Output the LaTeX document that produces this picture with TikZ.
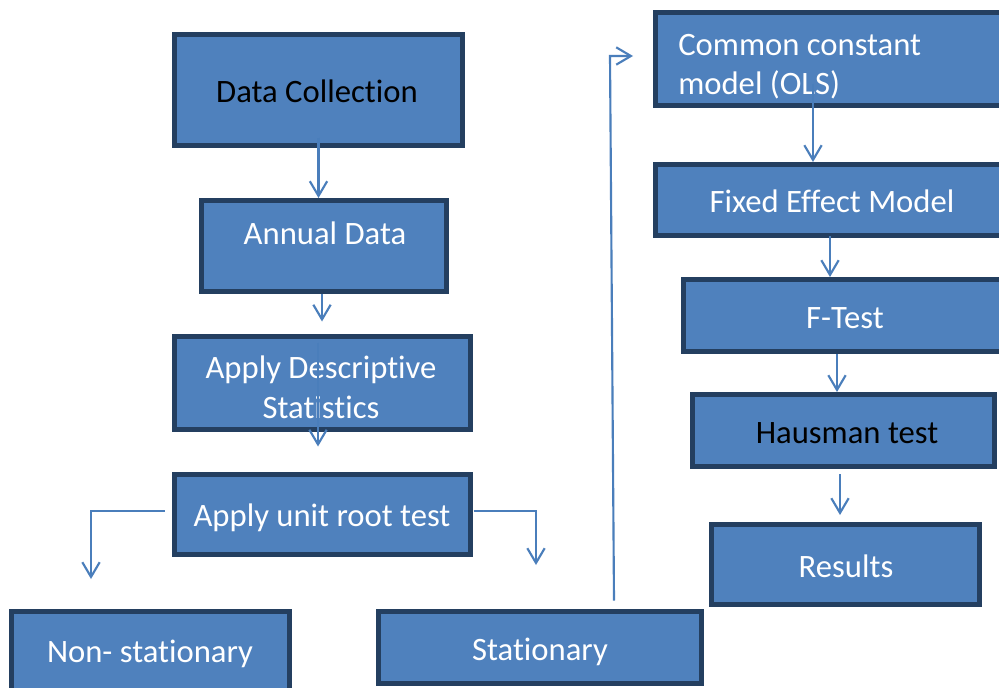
\documentclass[tikz,border=0pt]{standalone}
\usepackage{fontspec}
\setmainfont[Ligatures=NoCommon]{Carlito}
\usetikzlibrary{arrows.meta,fit}
\definecolor{boxfill}{HTML}{4F81BD}
\definecolor{boxline}{HTML}{243F60}
\definecolor{linkcol}{HTML}{4A7EBB}
\begin{document}
\begin{tikzpicture}[x=0.75pt,y=-0.75pt,
  box/.style={draw=boxline, fill=boxfill, line width=3.75pt, inner sep=0pt},
  lbl/.style={font=\fontsize{24.5}{29.5}\selectfont, text=white, inner sep=0pt, anchor=base},
  dark/.style={text=black},
  link/.style={draw=linkcol, line width=1.6pt, -{Straight Barb[length=11pt,width=13pt]}}]
\clip (0,0) rectangle (999,688);
\fill[white] (0,0) rectangle (999,688);

% boxes of the left column
\node[box, fit={(174.5,34.5) (462.5,145.5)}] (dc) {};
\node[box, fit={(201.5,200.5) (446.5,291.5)}] (ad) {};
\node[box, fit={(174.5,336.5) (470.5,429.5)}] (ds) {};
\node[box, fit={(174.5,474.5) (470.5,554.5)}] (ur) {};
\node[box, fit={(11.5,611.5) (289.5,700)}] (ns) {};
\node[box, fit={(378.5,611.5) (701.5,683.5)}] (st) {};

% boxes of the right column
\node[box, fit={(655.5,12.5) (1010,105.5)}] (cc) {};
\node[box, fit={(655.5,164.5) (1010,235.5)}] (fe) {};
\node[box, fit={(683.5,279.5) (1010,351.5)}] (ft) {};
\node[box, fit={(692.5,394.5) (994.5,466.5)}] (ht) {};
\node[box, fit={(711.5,524.5) (979.5,604.5)}] (rs) {};

% labels (multi-line labels sit on the baseline of their last line)
\node[lbl, dark] (dct) at (317,103) {Data Collection};
\node[lbl] (adt) at (325,244) {Annual Data};
\node[lbl, align=center] (dst) at (321,418) {Apply Descriptive\\Statistics};
\node[lbl] (urt) at (322,526) {Apply unit root test};
\node[lbl] (nst) at (150,662) {Non- stationary};
\node[lbl] (stt) at (540,660) {Stationary};
\node[lbl, anchor=base west, align=left] (cct) at (678,95) {Common constant\\model (OLS)};
\node[lbl] (fet) at (832,212) {Fixed Effect Model};
\node[lbl] (ftt) at (845,328) {F-Test};
\node[lbl, dark] (htt) at (847,443) {Hausman test};
\node[lbl] (rst) at (846,577) {Results};

% connector ends and bends
\coordinate (nsin) at (91,579);
\coordinate (stin) at (536,565);
\coordinate (bend) at (610,56);
\coordinate (ccin) at (633,56);
\coordinate (c1) at (813,84);
\coordinate (c2) at (830,236);
\coordinate (c3) at (837,354);
\coordinate (c4) at (840,474);

% connectors
\draw[link] ([yshift=7.5pt]dc.south) -- (dc.south |- ad.north);
\draw[link] ([xshift=-1.5pt]ad.south) -- ++(0,27.5);
\draw[link] ([shift={(-4.5,8.5)}]ds.north) -- ++(0,104);
\draw[link] ([shift={(-7.5,-3.5)}]ur.west) -| (nsin);
\draw[link] ([shift={(0.5,-3.5)}]ur.east) -| (stin);
\draw[link] ([shift={(74,-8.5)}]st.north) -- (bend) -- (ccin);
\draw[link] (c1) -- (c1 |- fe.north);
\draw[link] (c2) -- (c2 |- ft.north);
\draw[link] (c3) -- (c3 |- ht.north);
\draw[link] (c4) -- ++(0,41);
\end{tikzpicture}
\end{document}
